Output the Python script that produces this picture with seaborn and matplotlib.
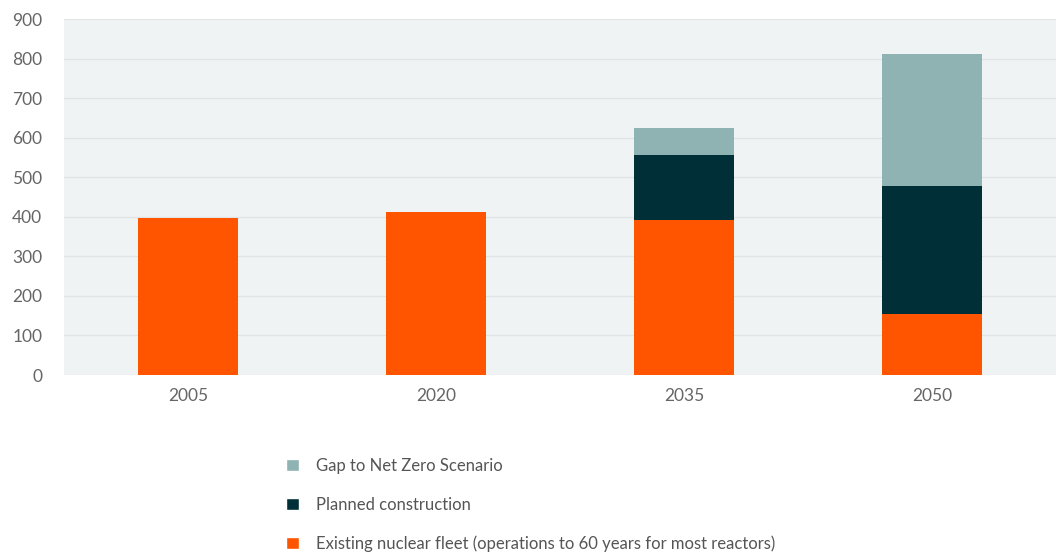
import matplotlib
matplotlib.use("Agg")
import matplotlib.pyplot as plt
from matplotlib.patches import Patch
import seaborn as sns
import pandas as pd

years = ["2005", "2020", "2035", "2050"]
existing = [396, 413, 391, 154]
planned = [0, 0, 164, 325]
gap = [0, 0, 69, 332]

labels = [
    "Existing nuclear fleet (operations to 60 years for most reactors)",
    "Planned construction",
    "Gap to Net Zero Scenario",
]
colors = ["#ff5500", "#012f38", "#8fb2b2"]

df = pd.DataFrame({"year": years, "existing": existing, "planned": planned, "gap": gap})
df["base_gap"] = df["existing"] + df["planned"]

sns.set_theme(style="white")
plt.rcParams["font.family"] = ["Lato", "DejaVu Sans"]

fig = plt.figure(figsize=(10.56, 5.54), dpi=100)
ax = fig.add_axes([0.0606, 0.323, 0.9394, 0.6427])
ax.set_facecolor("#eff3f4")

bar_kw = dict(width=0.4, saturation=1, ax=ax, zorder=3, linewidth=0, edgecolor="none")
sns.barplot(data=df, x="year", y="existing", color=colors[0], **bar_kw)
sns.barplot(data=df, x="year", y="planned", bottom=df["existing"], color=colors[1], **bar_kw)
sns.barplot(data=df, x="year", y="gap", bottom=df["base_gap"], color=colors[2], **bar_kw)

ax.set_xlim(-0.5, 3.5)
ax.set_ylim(0, 900)
ax.set_yticks(range(0, 901, 100))
ax.grid(axis="y", color="#e0e4e6", linewidth=1, zorder=0)
ax.set_axisbelow(True)
for s in ax.spines.values():
    s.set_visible(False)
ax.set_xlabel("")
ax.set_ylabel("")
ax.tick_params(axis="y", length=0, pad=20, labelsize=12.5, labelcolor="#666666")
ax.tick_params(axis="x", length=0, pad=9, labelsize=12.5, labelcolor="#666666")
for t in ax.get_yticklabels():
    t.set_x(0.006)

handles = [Patch(facecolor=c, label=l) for c, l in zip(colors, labels)][::-1]
fig.legend(handles=handles, loc="upper left", bbox_to_anchor=(0.257, 0.2),
           frameon=False, handlelength=0.75, handleheight=0.75, handletextpad=1.0,
           labelspacing=1.35, fontsize=12, labelcolor="#555555")

fig.savefig("out.png", dpi=100)
